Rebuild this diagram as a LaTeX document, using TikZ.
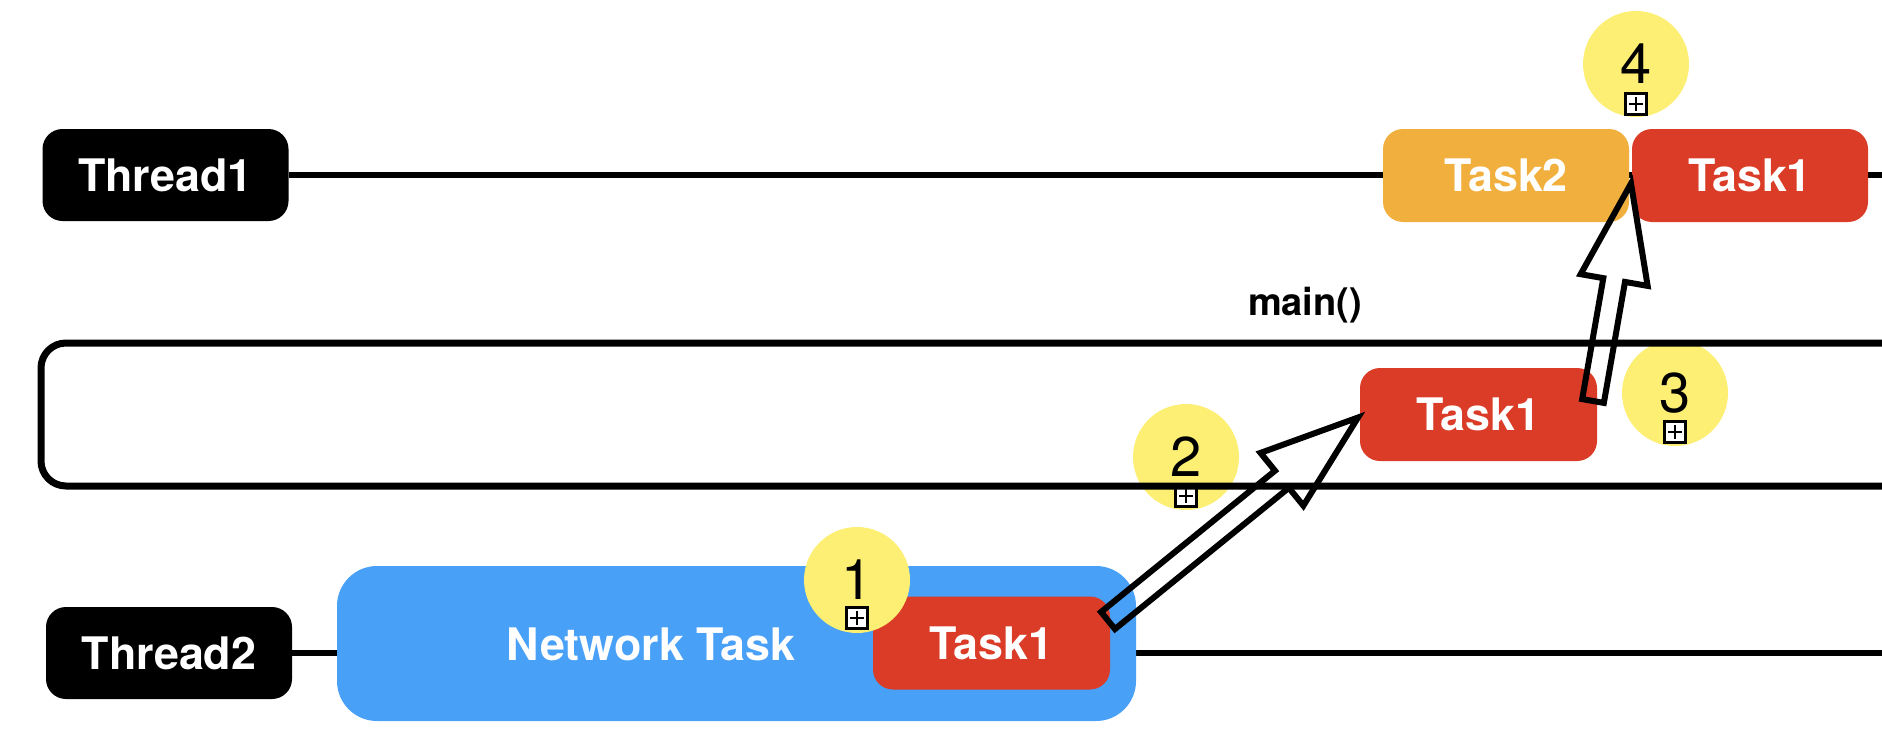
\documentclass[tikz,border=0pt]{standalone}
\usepackage{fontspec}
\setmainfont{TeX Gyre Heros}
\usetikzlibrary{calc}
\pgfdeclarelayer{background}
\pgfsetlayers{background,main}

\definecolor{taskred}{RGB}{218,60,39}
\definecolor{taskorange}{RGB}{241,176,61}
\definecolor{netblue}{RGB}{72,160,247}
\definecolor{markyellow}{RGB}{252,239,115}

\tikzset{
  labelfont/.style={text=white, font={\fontsize{22.4}{25}\selectfont\bfseries}},
  threadbox/.style={fill=black, rounded corners=10pt, minimum width=123pt,
    minimum height=46pt, inner sep=0pt, outer sep=0pt, labelfont},
  taskbox/.style={rounded corners=10pt, minimum height=46.5pt,
    inner sep=0pt, outer sep=0pt, labelfont},
  netbox/.style={fill=netblue, rounded corners=20pt, minimum width=399.5pt,
    minimum height=77.5pt, inner sep=0pt, outer sep=0pt},
  framebox/.style={draw, line width=3.5pt, rounded corners=12.5pt,
    minimum width=954.5pt, minimum height=71.5pt, inner sep=0pt},
  framelabel/.style={font={\fontsize{19}{22}\selectfont\bfseries}, inner sep=0pt},
  threadline/.style={line width=3.25pt},
  stepmark/.style={circle, fill=markyellow, minimum size=53pt, inner sep=0pt,
    font={\fontsize{28}{32}\selectfont}},
  plusbox/.style={draw, fill=white, line width=1.4pt, minimum size=10.3pt,
    inner sep=0pt, path picture={
      \draw[line width=0.8pt]
        ([xshift=-3.6pt]path picture bounding box.center) --
        ([xshift=3.6pt]path picture bounding box.center)
        ([yshift=-3.6pt]path picture bounding box.center) --
        ([yshift=3.6pt]path picture bounding box.center);}},
  blockarrow/.style={draw, line width=3pt, line join=miter},
}

% hollow block arrow from a tail coordinate to a tip coordinate
\newcommand\hollowarrow[2]{%
  \coordinate (ha-base) at ($(#2)!49pt!(#1)$);
  \draw[blockarrow]
    ($(#1)!5.5pt!90:(#2)$) -- ($(ha-base)!5.5pt!90:(#2)$) --
    ($(ha-base)!17pt!90:(#2)$) -- (#2) --
    ($(ha-base)!17pt!-90:(#2)$) -- ($(ha-base)!5.5pt!-90:(#2)$) --
    ($(#1)!5.5pt!-90:(#2)$) -- cycle;
}

\begin{document}
\begin{tikzpicture}[x=0.5pt, y=-0.5pt]
\path[use as bounding box] (0,0) rectangle (1882,744);
\clip (0,0) rectangle (1882,744);
\coordinate (rim) at (1900,0);

% step markers lying under the main() frame
\node[stepmark] (m2) at (1186,457) {2};
\node[plusbox] (m2box) at ($(m2)+(0,39)$) {};
\node[stepmark] (m3) at (1675,393) {3};
\node[plusbox] (m3box) at ($(m3)+(0,39)$) {};

% main() frame
\node[framebox] (frame) at (995.5,414.5) {};
\node[framelabel] (mainlbl) at (1305,305) {main()};

% threads
\node[threadbox] (th1) at (165.5,175) {Thread1};
\node[threadbox] (th2) at (169,653) {Thread2};

% network task with its nested task
\node[netbox] (net) at (736.5,643.5) {};
\node[labelfont, inner sep=0pt] (netlbl) at (651,644) {Network Task};
\node[taskbox, fill=taskred, minimum width=118.5pt] (t1b) at (991.5,643) {Task1};

% task in main()
\node[taskbox, fill=taskred, minimum width=118.5pt] (t1m) at (1478.5,414.5) {Task1};

% tasks on Thread1
\node[taskbox, fill=taskorange, minimum width=123pt] (t2) at (1506,175.5) {Task2};
\node[taskbox, fill=taskred, minimum width=118pt] (t1t) at (1750,175.5) {Task1};

% remaining step markers
\node[stepmark] (m1) at (857,580) {1};
\node[plusbox] (m1box) at ($(m1)+(0,38)$) {};
\node[stepmark] (m4) at (1636,64) {4};
\node[plusbox] (m4box) at ($(m4)+(0,40)$) {};

% thread timelines
\begin{pgfonlayer}{background}
  \draw[threadline] (th1.east) -- (th1.east -| rim);
  \draw[threadline] (th2.east) -- (th2.east -| rim);
\end{pgfonlayer}

% hand-over arrows
\coordinate (a1s) at ($(t1b.north east)+(-2,24)$);
\coordinate (a1e) at ($(t1m.west)+(-2,3)$);
\hollowarrow{a1s}{a1e}
\coordinate (a2s) at ($(t1m.north east)+(-4,33)$);
\coordinate (a2e) at ($(t1t.west)+(-1,8)$);
\hollowarrow{a2s}{a2e}
\end{tikzpicture}
\end{document}
